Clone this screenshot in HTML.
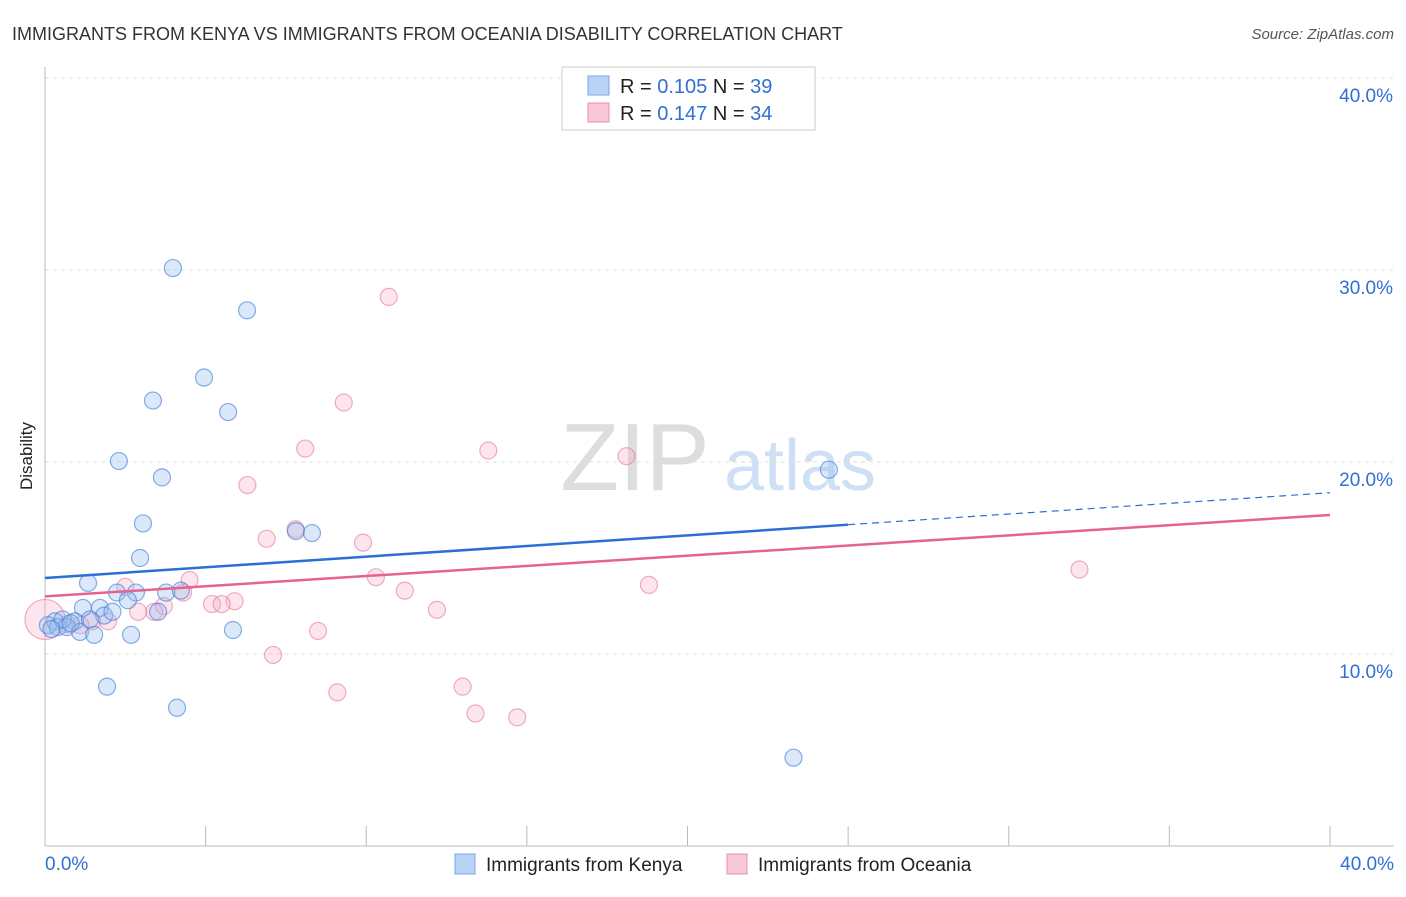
<!DOCTYPE html>
<html><head><meta charset="utf-8"><style>
body{margin:0;background:#fff;font-family:"Liberation Sans",sans-serif;}
svg text{font-family:"Liberation Sans",sans-serif;}
</style></head><body>
<svg id="chart" width="1406" height="892" xmlns="http://www.w3.org/2000/svg">
<text x="12" y="40" font-size="18" fill="#333">IMMIGRANTS FROM KENYA VS IMMIGRANTS FROM OCEANIA DISABILITY CORRELATION CHART</text>
<text x="1394" y="39" font-size="15" fill="#555" text-anchor="end" font-style="italic">Source: ZipAtlas.com</text>
<text x="32" y="456" font-size="17" fill="#222" text-anchor="middle" transform="rotate(-90 32 456)">Disability</text>
<g><text x="635" y="490" font-size="96" fill="#ddd" font-family="Liberation Serif" text-anchor="middle">ZIP</text><text x="800" y="490" font-size="72" fill="#cfe0f5" text-anchor="middle">atlas</text></g>
<g id="grid"></g><g id="axes"></g><g id="marks"></g>
<g>
<rect x="562" y="67" width="253" height="63" fill="#fff" stroke="#ccc"/>
<rect x="588" y="76" width="21" height="19" fill="#b9d3f5" stroke="#7aa6e6"/>
<text x="620" y="93" font-size="20" fill="#222">R = <tspan fill="#2f6fd6">0.105</tspan>   N = <tspan fill="#2f6fd6">39</tspan></text>
<rect x="588" y="103" width="21" height="19" fill="#f9c7d5" stroke="#ec92ad"/>
<text x="620" y="120" font-size="20" fill="#222">R = <tspan fill="#2f6fd6">0.147</tspan>   N = <tspan fill="#2f6fd6">34</tspan></text>
</g>
<g>
<rect x="455" y="854" width="20" height="20" fill="#b9d3f5" stroke="#7aa6e6"/>
<text x="486" y="871" font-size="19" fill="#222">Immigrants from Kenya</text>
<rect x="727" y="854" width="20" height="20" fill="#f9c7d5" stroke="#ec92ad"/>
<text x="758" y="871" font-size="19" fill="#222">Immigrants from Oceania</text>
</g>
</svg>
<script>
const xTicks=[0,5,10,15,20,25,30,35,40];
const yTicks=[10,20,30,40];
const yTickLabels=["10.0%","20.0%","30.0%","40.0%"];
const xEndLabels=["0.0%","40.0%"];
const kenyaX=[3.98,6.29,4.95,3.36,5.70,2.30,3.64,3.05,7.81,8.31,2.96,1.34,2.24,2.83,3.77,4.23,2.58,1.18,1.71,3.52,1.84,0.31,0.93,0.09,0.40,0.68,1.09,1.53,2.68,5.85,1.93,4.11,24.4,23.3,0.55,0.80,0.20,1.40,2.10];
const kenyaY=[30.1,27.9,24.4,23.2,22.6,20.05,19.2,16.8,16.4,16.3,15.0,13.7,13.2,13.2,13.2,13.3,12.8,12.4,12.4,12.2,12.0,11.7,11.7,11.5,11.4,11.4,11.15,11.0,11.0,11.25,8.3,7.2,19.6,4.6,11.8,11.6,11.3,11.8,12.2];
const oceaniaX=[10.7,9.3,8.1,13.8,18.1,6.3,7.8,6.9,9.9,32.2,10.3,4.5,2.5,18.8,11.2,4.3,5.9,5.2,5.5,3.7,3.4,2.9,12.2,1.96,1.46,0.7,8.5,7.1,9.1,13.0,13.4,14.7,0.0,1.1];
const oceaniaY=[28.6,23.1,20.7,20.6,20.3,18.8,16.5,16.0,15.8,14.4,14.0,13.85,13.5,13.6,13.3,13.2,12.75,12.6,12.6,12.5,12.2,12.2,12.3,11.7,11.7,11.55,11.2,9.95,8.0,8.3,6.9,6.7,11.8,11.5];
const kenyaTrend=[13.96,18.4];
const oceaniaTrend=[13.0,17.24];
const kenyaSolidEnd=25.0;
const X=v=>45+v/40*1285, Y=v=>846-v*19.2;
const NS="http://www.w3.org/2000/svg";
function mk(tag,attrs,parent){const e=document.createElementNS(NS,tag);for(const k in attrs)e.setAttribute(k,attrs[k]);parent.appendChild(e);return e;}
const grid=document.getElementById('grid'),axes=document.getElementById('axes'),marks=document.getElementById('marks');
yTicks.forEach((t,i)=>{
 const g=mk('line',{x1:45,x2:1394,y1:Y(t),y2:Y(t),stroke:'#ddd','stroke-dasharray':'4 4'},grid);
 
 
 const l=mk('text',{x:1393,y:Y(t)+24,'font-size':19,fill:'#2f6fd6','text-anchor':'end'},axes);l.textContent=yTickLabels[i];
 
 
});
const ax=mk('line',{x1:45,x2:45,y1:67,y2:846,stroke:'#bbb'},axes);


const bx=mk('line',{x1:45,x2:1394,y1:846,y2:846,stroke:'#bbb'},axes);


xTicks.forEach(t=>{const tk=mk('line',{x1:X(t),x2:X(t),y1:826,y2:846,stroke:'#bbb'},axes);
 
 });
[[0,'start',45],[40,'end',1394]].forEach((a,i)=>{const l=mk('text',{x:a[2],y:870,'font-size':19,fill:'#2f6fd6','text-anchor':a[1]},axes);l.textContent=xEndLabels[i];
 
 });
oceaniaX.forEach((x,i)=>{const c=mk('circle',{cx:X(x),cy:Y(oceaniaY[i]),r:(i==32?20:8.5),fill:'rgba(246,170,195,0.3)',stroke:'rgba(232,120,155,0.6)','stroke-width':1.2},marks);
 
 });
kenyaX.forEach((x,i)=>{const c=mk('circle',{cx:X(x),cy:Y(kenyaY[i]),r:8.5,fill:'rgba(150,190,240,0.35)',stroke:'rgba(70,130,220,0.65)','stroke-width':1.2},marks);
 
 });
const kAt=v=>kenyaTrend[0]+(kenyaTrend[1]-kenyaTrend[0])*v/40;
const t1=mk('line',{x1:X(0),y1:Y(kAt(0)),x2:X(kenyaSolidEnd),y2:Y(kAt(kenyaSolidEnd)),stroke:'#2a6fd4','stroke-width':2.5},marks);


const t2=mk('line',{x1:X(kenyaSolidEnd),y1:Y(kAt(kenyaSolidEnd)),x2:X(40),y2:Y(kAt(40)),stroke:'#2a6fd4','stroke-width':1.2,'stroke-dasharray':'7 5'},marks);


const t3=mk('line',{x1:X(0),y1:Y(oceaniaTrend[0]),x2:X(40),y2:Y(oceaniaTrend[1]),stroke:'#e5648f','stroke-width':2.5},marks);


</script>
</body></html>
